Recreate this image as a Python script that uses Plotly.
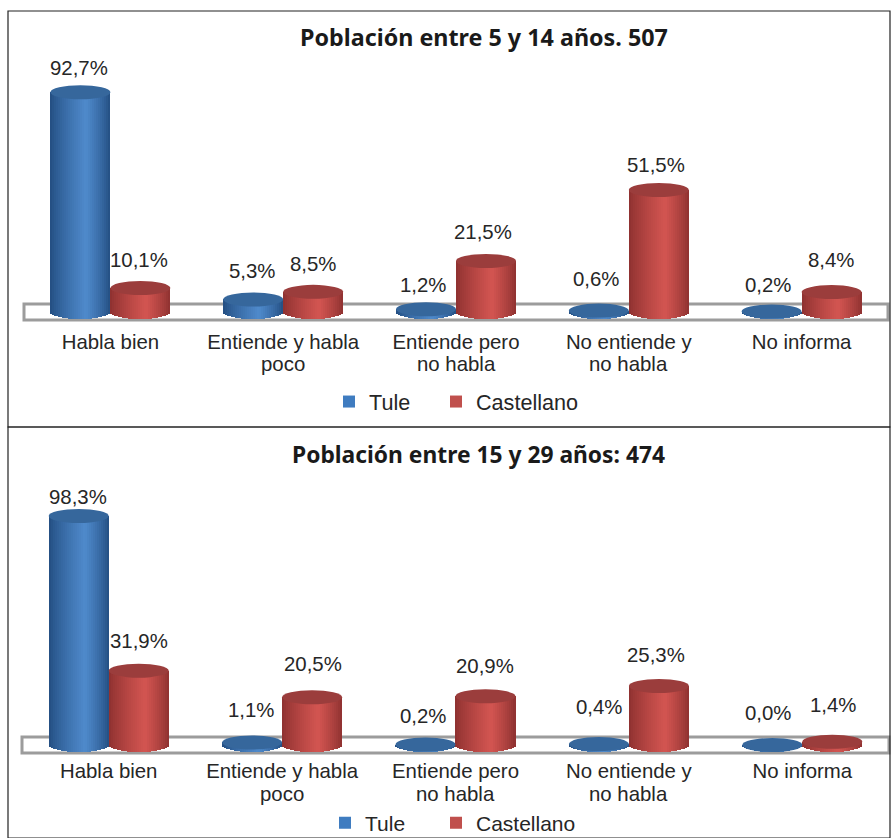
import math
import plotly.graph_objects as go

W, H = 891, 838
categories = ["Habla bien", "Entiende y habla<br>poco", "Entiende pero<br>no habla", "No entiende y<br>no habla", "No informa"]
series_names = ["Tule", "Castellano"]
tule_1 = [92.7, 5.3, 1.2, 0.6, 0.2]
cast_1 = [10.1, 8.5, 21.5, 51.5, 8.4]
tule_2 = [98.3, 1.1, 0.2, 0.4, 0.0]
cast_2 = [31.9, 20.5, 20.9, 25.3, 1.4]
title_1 = "Población entre 5 y 14 años. 507"
title_2 = "Población entre 15 y 29 años: 474"

# label pixel offsets (style only)
up_1 = [[24, 28, 24, 32, 27], [28, 28, 29, 25, 32]]
up_2 = [[19, 32, 29, 37, 32], [30, 33, 30, 31, 37]]
dx_1 = [[-1, -1, -3, -3, -4], [-1, 0, -3, -3, -1]]
dx_2 = [[-1, -1, -3, 0, -4], [0, 1, -1, -3, 1]]

BLUE = ((0x22, 0x4d, 0x80), (0x4f, 0x8a, 0xcc), "#36679c", "#3f7cc0")
RED = ((0x8c, 0x30, 0x2f), (0xd3, 0x55, 0x51), "#9b3d3c", "#c0504d")
N = 30
BW = 60.0
HALF = 7.0
FONT = dict(size=20.4, color="#262626", family="Liberation Sans")

def px(x): return x / W
def py(y): return 1 - y / H

def mix(a, b, t):
    return "rgb(%d,%d,%d)" % tuple(round(a[i] + (b[i] - a[i]) * t) for i in range(3))

fig = go.Figure()
shapes, annos = [], []

panels = [
    dict(ax="", left=24, right=888, zero=312, scale=2.37, top=50, bottom=328, plat=(304, 320), tule=tule_1, cast=cast_1,
         up=up_1, dx=dx_1, title=title_1, title_x=484, title_y=37, title_size=23.3, second=364,
         legends=("legend", "legend2"), leg_x=(329, 436), leg_y=402, leg_size=21.6),
    dict(ax="2", left=22, right=889, zero=745, scale=2.33, top=480, bottom=757, plat=(737, 753), tule=tule_2, cast=cast_2,
         up=up_2, dx=dx_2, title=title_2, title_x=478, title_y=454, title_size=22.8, second=794,
         legends=("legend3", "legend4"), leg_x=(325, 436), leg_y=823, leg_size=21),
]

layout_axes = {}
for p in panels:
    ax = p["ax"]
    unit = (p["right"] - p["left"]) / 5.0
    bw = BW / unit
    h = HALF / p["scale"]
    for si, (vals, col) in enumerate(((p["tule"], BLUE), (p["cast"], RED))):
        offs = -bw / 2 if si == 0 else bw / 2
        for k in range(N):
            t = (k + 0.5) / N * 2 - 1
            shade = max(0, 1 - abs(t - 0.2) / (1.2 if t < 0.2 else 0.8))
            base = [-h * math.sqrt(1 - t * t)] * 5
            fig.add_trace(go.Bar(
                x=[i + offs + t * bw / 2 for i in range(5)],
                y=[v - b for v, b in zip(vals, base)],
                base=base,
                width=bw / N * 1.08,
                marker=dict(color=mix(col[0], col[1], shade ** 0.8), line=dict(width=0)),
                showlegend=False, hoverinfo="skip",
                xaxis="x" + ax, yaxis="y" + ax,
            ))
        for i, v in enumerate(vals):
            shapes.append(dict(type="circle", xref="x" + ax, yref="y" + ax, layer="above",
                               x0=i + offs - bw / 2, x1=i + offs + bw / 2, y0=v - h, y1=v + h,
                               fillcolor=col[2], line=dict(width=0)))
            annos.append(dict(x=i + offs, y=v, xref="x" + ax, yref="y" + ax, showarrow=False,
                              text=f"{v:.1f}".replace(".", ",") + "%", yanchor="middle",
                              yshift=p["up"][si][i], xshift=p["dx"][si][i], font=FONT))
        fig.add_trace(go.Scatter(x=[None], y=[None], mode="markers", name=series_names[si],
                                 marker=dict(symbol="square", size=12, color=col[3]),
                                 legend=p["legends"][si], xaxis="x" + ax, yaxis="y" + ax, hoverinfo="skip"))
        layout_axes[p["legends"][si]] = dict(orientation="h", x=px(p["leg_x"][si]), y=py(p["leg_y"]),
                                             xanchor="left", yanchor="middle",
                                             font=dict(FONT, size=p["leg_size"]), itemsizing="trace",
                                             bgcolor="rgba(0,0,0,0)", itemclick=False, itemdoubleclick=False)
    # platform
    shapes.append(dict(type="rect", xref="paper", yref="paper", layer="below",
                       x0=px(p["left"]), x1=px(p["right"]), y0=py(p["plat"][1]), y1=py(p["plat"][0]),
                       fillcolor="white", line=dict(color="#9c9c9c", width=3)))
    firsts = [c.split("<br>")[0] for c in categories]
    for i, c in enumerate(categories):
        parts = c.split("<br>")
        if len(parts) > 1:
            annos.append(dict(x=i, y=py(p["second"]), xref="x" + ax, yref="paper", showarrow=False,
                              text=parts[1], yanchor="middle", font=FONT))
    layout_axes["xaxis" + ax] = dict(domain=[px(p["left"]), px(p["right"])], range=[-0.5, 4.5], tickmode="array",
                                     tickvals=list(range(5)), ticktext=firsts, showgrid=False, zeroline=False,
                                     showline=False, ticks="", anchor="y" + ax, tickfont=FONT)
    layout_axes["yaxis" + ax] = dict(domain=[py(p["bottom"]), py(p["top"])],
                                     range=[(p["zero"] - p["bottom"]) / p["scale"], (p["zero"] - p["top"]) / p["scale"]],
                                     visible=False, anchor="x" + ax)
    annos.append(dict(x=px(p["title_x"]), y=py(p["title_y"]), xref="paper", yref="paper", showarrow=False,
                      text="<b>%s</b>" % p["title"], yanchor="middle",
                      font=dict(size=p["title_size"], color="#1a1a1a", family="Noto Sans")))

# frames
for x0, y0, x1, y1 in [(8, 11, 890, 427), (8, 427, 890, 838)]:
    shapes.append(dict(type="rect", xref="paper", yref="paper", layer="below",
                       x0=px(x0), x1=px(x1), y0=py(y1), y1=py(y0), line=dict(color="#222222", width=1.2)))

fig.update_layout(width=W, height=H, margin=dict(l=0, r=0, t=0, b=0, autoexpand=False), barmode="overlay", bargap=0,
                  paper_bgcolor="white", plot_bgcolor="rgba(0,0,0,0)", shapes=shapes, annotations=annos,
                  showlegend=True, **layout_axes)
fig.write_html("out.html", config={"displayModeBar": False},
               post_script="document.body.style.margin='0';document.documentElement.style.overflow='hidden';")
